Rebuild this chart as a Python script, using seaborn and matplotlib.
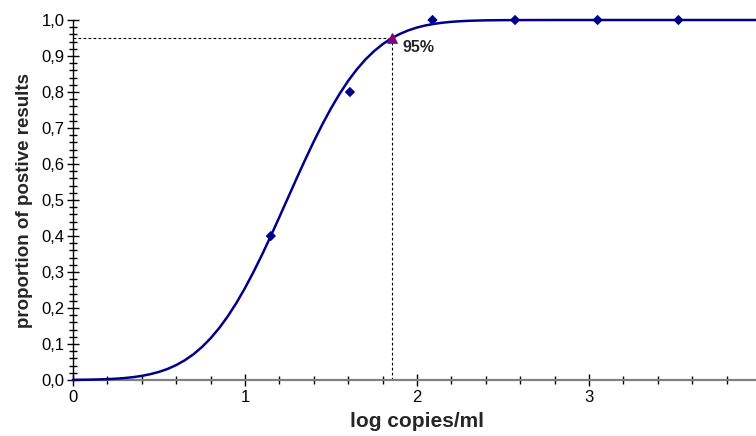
import matplotlib
matplotlib.use("Agg")
import matplotlib.pyplot as plt
from matplotlib.ticker import MultipleLocator, FuncFormatter
import seaborn as sns

# measured hit rates per dilution
log_copies = [1.15, 1.61, 2.09, 2.57, 3.05, 3.52]
positive_rate = [0.40, 0.80, 1.00, 1.00, 1.00, 1.00]

# fitted probit curve
curve_x = [0.00, 0.05, 0.10, 0.15, 0.20, 0.25, 0.30, 0.35, 0.40, 0.45,
           0.50, 0.55, 0.60, 0.65, 0.70, 0.75, 0.80, 0.85, 0.90, 0.95,
           1.00, 1.05, 1.10, 1.15, 1.20, 1.25, 1.30, 1.35, 1.40, 1.45,
           1.50, 1.55, 1.60, 1.65, 1.70, 1.75, 1.80, 1.85, 1.90, 1.95,
           2.00, 2.05, 2.10, 2.15, 2.20, 2.25, 2.30, 2.35, 2.40, 2.50,
           2.60, 2.80, 3.00, 3.50, 4.00]
curve_y = [0.0004, 0.0007, 0.0010, 0.0016, 0.0025, 0.0037, 0.0055, 0.0080, 0.0115, 0.0163,
           0.0226, 0.0308, 0.0415, 0.0549, 0.0715, 0.0918, 0.1160, 0.1444, 0.1772, 0.2142,
           0.2556, 0.3008, 0.3491, 0.4001, 0.4530, 0.5064, 0.5600, 0.6122, 0.6628, 0.7105,
           0.7546, 0.7950, 0.8312, 0.8628, 0.8903, 0.9134, 0.9328, 0.9487, 0.9613, 0.9713,
           0.9791, 0.9850, 0.9894, 0.9926, 0.9950, 0.9966, 0.9978, 0.9985, 0.9991, 0.9996,
           0.9998, 1.0000, 1.0000, 1.0000, 1.0000]

# 95% detection limit
lod_x = 1.855
lod_y = 0.95
lod_label = "95%"

sns.set_style("white")
plt.rcParams["font.family"] = ["Liberation Sans", "DejaVu Sans"]

fig = plt.figure(figsize=(7.56, 4.36), dpi=100)
ax = fig.add_axes([0.0966, 0.1284, 0.910, 0.8257])

navy = "#00008B"
sns.lineplot(x=curve_x, y=curve_y, ax=ax, color=navy, linewidth=1.8,
             estimator=None, clip_on=False, zorder=3)
sns.scatterplot(x=log_copies, y=positive_rate, ax=ax, marker="D", s=28,
                color=navy, edgecolor="none", clip_on=False, zorder=4)

# dotted guides to the 95% point
ax.plot([0, lod_x], [lod_y, lod_y], color="black", linestyle=(0, (2.5, 2)), linewidth=0.8, zorder=2)
ax.plot([lod_x, lod_x], [0, lod_y], color="black", linestyle=(0, (2.5, 2)), linewidth=0.8, zorder=2)
ax.scatter([lod_x], [lod_y], marker="^", s=45, color="#800080", zorder=5, clip_on=False)
ax.text(lod_x + 0.06, lod_y - 0.025, lod_label, fontsize=11.5, fontweight="bold",
        ha="left", va="center")

ax.set_xlim(0, 4)
ax.set_ylim(0, 1)
ax.xaxis.set_major_locator(MultipleLocator(1))
ax.xaxis.set_minor_locator(MultipleLocator(0.2))
ax.yaxis.set_major_locator(MultipleLocator(0.1))
ax.yaxis.set_minor_locator(MultipleLocator(0.02))
ax.yaxis.set_major_formatter(FuncFormatter(lambda v, p: f"{v:.1f}".replace(".", ",")))
ax.xaxis.set_major_formatter(FuncFormatter(lambda v, p: f"{v:.0f}"))

ax.tick_params(axis="both", which="both", direction="inout", labelsize=12,
               bottom=True, left=True, colors="black")
ax.tick_params(axis="both", which="major", length=8, width=1)
ax.tick_params(axis="both", which="minor", length=6, width=1)
ax.tick_params(axis="x", which="major", pad=3)
ax.tick_params(axis="y", which="major", pad=2)

for side in ["top", "right"]:
    ax.spines[side].set_visible(False)
ax.spines["bottom"].set_color("#808080")
ax.spines["bottom"].set_linewidth(1.6)
ax.spines["left"].set_color("black")
ax.spines["left"].set_linewidth(1.0)

ax.set_xlabel("log copies/ml", fontsize=15, fontweight="bold", labelpad=5)
ax.set_ylabel("proportion of postive results", fontsize=13.5, fontweight="bold", labelpad=6)

fig.savefig("out.png", dpi=100)
